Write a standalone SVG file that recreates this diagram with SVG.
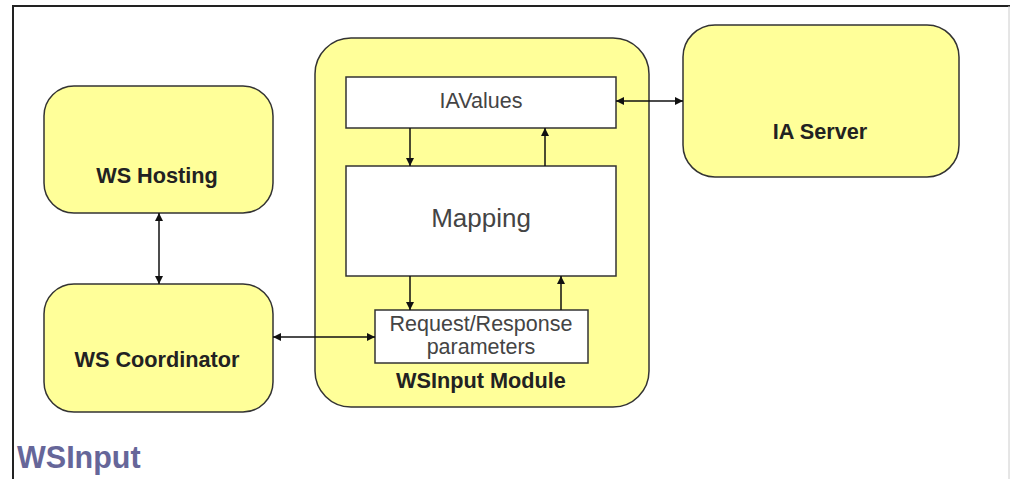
<svg xmlns="http://www.w3.org/2000/svg" width="1010" height="479" viewBox="0 0 1010 479">
<style>
.node{fill:#ffff99;stroke:#333;stroke-width:1.5}
.box{fill:#fff;stroke:#333;stroke-width:1.5}
.lbl{font-family:"Liberation Sans",Arial,sans-serif;font-weight:bold;font-size:21.7px;fill:#222;text-anchor:middle}
.in{font-family:"Liberation Sans",Arial,sans-serif;font-size:21.5px;fill:#444;text-anchor:middle}
.con{stroke:#111;stroke-width:1.5;fill:none}
</style>
<defs>
<marker id="ah" viewBox="0 0 10 10" refX="10" refY="5" markerWidth="8" markerHeight="8" markerUnits="userSpaceOnUse" orient="auto-start-reverse">
<path d="M0,0 L10,5 L0,10 z" fill="#111"/>
</marker>
</defs>
<rect width="1010" height="479" fill="#fff"/>
<path d="M13,479 V6 H1010" fill="none" stroke="#222" stroke-width="2"/>
<line x1="1009" y1="6" x2="1009" y2="479" stroke="#ccc" stroke-width="1"/>
<g id="ws-hosting">
<rect class="node" x="44" y="86" width="229" height="127" rx="30"/>
<text class="lbl" x="157" y="183">WS Hosting</text>
</g>
<g id="ws-coordinator">
<rect class="node" x="44" y="284" width="229" height="128" rx="30"/>
<text class="lbl" x="157" y="367">WS Coordinator</text>
</g>
<g id="wsinput-module">
<rect class="node" x="315" y="38" width="334" height="369" rx="36"/>
<text class="lbl" x="481" y="388">WSInput Module</text>
</g>
<g id="iavalues">
<rect class="box" x="346" y="77" width="270" height="51"/>
<text class="in" x="481" y="108">IAValues</text>
</g>
<g id="mapping">
<rect class="box" x="346" y="166" width="270" height="110"/>
<text class="in" x="481" y="227" style="font-size:26px">Mapping</text>
</g>
<g id="request-response">
<rect class="box" x="375" y="310" width="213" height="53"/>
<text class="in" x="481" y="331">Request/Response</text>
<text class="in" x="481" y="354">parameters</text>
</g>
<g id="ia-server">
<rect class="node" x="683" y="25" width="276" height="152" rx="32"/>
<text class="lbl" x="820" y="139">IA Server</text>
</g>
<text x="17" y="468" font-family="Liberation Sans, Arial, sans-serif" font-weight="bold" font-size="30.5" fill="#666699">WSInput</text>
<g id="connectors">
<line class="con" x1="159" y1="213" x2="159" y2="284" marker-start="url(#ah)" marker-end="url(#ah)"/>
<line class="con" x1="273" y1="337" x2="375" y2="337" marker-start="url(#ah)" marker-end="url(#ah)"/>
<line class="con" x1="616" y1="101" x2="683" y2="101" marker-start="url(#ah)" marker-end="url(#ah)"/>
<line class="con" x1="410" y1="128" x2="410" y2="166" marker-end="url(#ah)"/>
<line class="con" x1="545" y1="166" x2="545" y2="128" marker-end="url(#ah)"/>
<line class="con" x1="410" y1="276" x2="410" y2="310" marker-end="url(#ah)"/>
<line class="con" x1="561" y1="310" x2="561" y2="276" marker-end="url(#ah)"/>
</g>
</svg>
